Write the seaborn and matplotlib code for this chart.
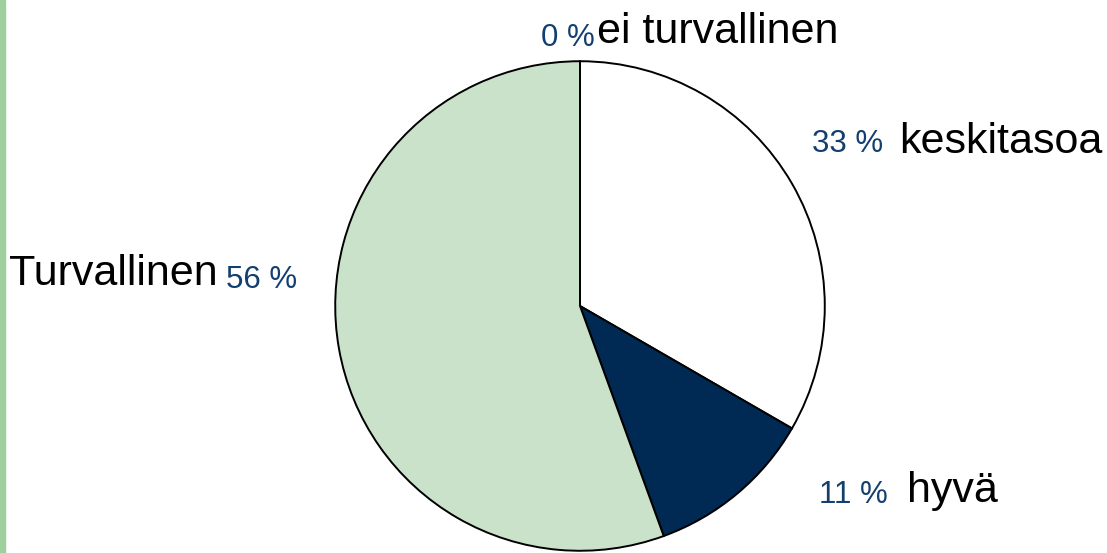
import matplotlib
matplotlib.use("Agg")
import matplotlib.pyplot as plt
import seaborn as sns
from matplotlib.patches import Rectangle

categories = ["ei turvallinen", "keskitasoa", "hyvä", "Turvallinen"]
values = [0, 3, 1, 5]
pct_labels = ["0 %", "33 %", "11 %", "56 %"]
colors = ["#ffffff", "#ffffff", "#002a54", "#c9e2c9"]

sns.set_theme(style="white")
plt.rcParams["font.family"] = ["Liberation Sans", "DejaVu Sans"]

W, H = 1107, 553
fig = plt.figure(figsize=(W / 100, H / 100), dpi=100)
fig.patch.set_facecolor("white")

cx, cy, r = 580, 306, 246
ax = fig.add_axes([(cx - r) / W, (H - cy - r) / H, 2 * r / W, 2 * r / H])
ax.pie(values, colors=colors, startangle=90, counterclock=False,
       wedgeprops=dict(edgecolor="black", linewidth=1.4), radius=1.0)
ax.set_xlim(-1.005, 1.005)
ax.set_ylim(-1.005, 1.005)
ax.set_aspect("equal")
ax.axis("off")

# left accent strip
fig.patches.append(Rectangle((0, 0), 5 / W, 1, transform=fig.transFigure,
                             color="#9dd09d", zorder=5))

name_fs = 31
pct_fs = 22.5
pct_color = "#123f70"

def place(text, x, y_base, fs, color):
    fig.text(x / W, (H - y_base) / H, text, fontsize=fs, color=color,
             ha="left", va="baseline")

# positions (pixel coords of label start, baseline)
name_pos = [(597, 43), (899, 153), (907, 502), (9, 285)]
pct_pos = [(541, 46), (812, 152), (819, 503), (226, 288)]

for cat, (x, y) in zip(categories, name_pos):
    place(cat, x, y, name_fs, "black")
for p, (x, y) in zip(pct_labels, pct_pos):
    place(p, x, y, pct_fs, pct_color)

fig.savefig("out.png", dpi=100)
